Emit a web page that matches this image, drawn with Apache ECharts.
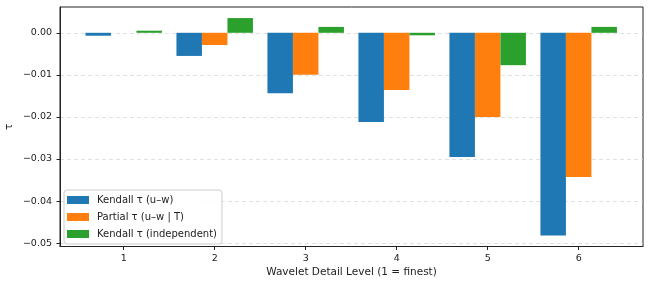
<!DOCTYPE html>
<html>
<head>
<meta charset="utf-8">
<script src="https://cdn.jsdelivr.net/npm/echarts@6/dist/echarts.min.js"></script>
<style>html,body{margin:0;padding:0;background:#fff}#c{width:650px;height:285px}</style>
</head>
<body>
<div id="c"></div>
<script>
const levels = [1, 2, 3, 4, 5, 6];
const kendallUW = [-0.0007, -0.0055, -0.0144, -0.0212, -0.0295, -0.0482];
const partialUW = [0.0000, -0.0029, -0.0100, -0.0136, -0.0200, -0.0343];
const kendallIndep = [0.0005, 0.0035, 0.0014, -0.0006, -0.0077, 0.0014];
const yTicks = [0, -0.01, -0.02, -0.03, -0.04, -0.05];
const seriesNames = ['Kendall τ (u–w)', 'Partial τ (u–w | T)', 'Kendall τ (independent)'];
const colors = ['#1f77b4', '#ff7f0e', '#2ca02c'];

const font = 'DejaVu Sans';
const chart = echarts.init(document.getElementById('c'), null, {renderer: 'canvas'});
const mk = (name, vals, i) => ({
  name: name, type: 'bar', barWidth: 25.5, barGap: '0%',
  data: levels.map((l, k) => [l, vals[k]]),
  itemStyle: {color: colors[i]},
  animation: false
});
chart.setOption({
  animation: false,
  textStyle: {fontFamily: font},
  grid: {left: 60, right: 7, top: 7, bottom: 38.5, show: true, borderColor: '#222', borderWidth: 1,
    containLabel: false, outerBoundsMode: 'none'},
  legend: {
    orient: 'vertical', left: 64, top: 190,
    itemWidth: 22, itemHeight: 8, itemGap: 7,
    padding: [5, 5, 5, 3],
    backgroundColor: 'rgba(255,255,255,0.85)', borderColor: '#cccccc', borderWidth: 1, borderRadius: 3,
    textStyle: {fontFamily: font, fontSize: 10, color: '#222', padding: [0, 0, 0, 3]},
    icon: 'rect',
    data: seriesNames
  },
  xAxis: {
    type: 'value', min: 0.3, max: 6.707,
    name: 'Wavelet Detail Level (1 = finest)', nameLocation: 'middle', nameGap: 20, nameMoveOverlap: false,
    nameTextStyle: {fontFamily: font, fontSize: 10.5, color: '#222'},
    axisLine: {show: true, onZero: false, lineStyle: {color: '#222'}},
    axisTick: {show: true, length: 3.5, inside: false, customValues: levels, lineStyle: {color: '#222'}},
    axisLabel: {customValues: levels, margin: 7, fontFamily: font, fontSize: 9.5, color: '#222', formatter: v => String(v)},
    splitLine: {show: false}
  },
  yAxis: {
    type: 'value', min: -0.0508, max: 0.00613,
    name: 'τ', nameLocation: 'middle', nameGap: 45, nameRotate: 90, nameMoveOverlap: false,
    nameTextStyle: {fontFamily: font, fontSize: 10.5, color: '#222'},
    axisLine: {show: true, lineStyle: {color: '#222'}},
    axisTick: {show: true, length: 3.5, customValues: yTicks, lineStyle: {color: '#222'}},
    axisLabel: {customValues: yTicks, margin: 8, fontFamily: font, fontSize: 9.5, color: '#222',
      formatter: v => (Math.abs(v) < 1e-9 ? '0.00' : (v < 0 ? '\u2212' : '') + Math.abs(v).toFixed(2))},
    splitLine: {show: true, lineStyle: {color: '#d9d9d9', type: [4, 3], width: 0.8}}
  },
  series: [mk(seriesNames[0], kendallUW, 0), mk(seriesNames[1], partialUW, 1), mk(seriesNames[2], kendallIndep, 2)]
});
</script>
</body>
</html>
